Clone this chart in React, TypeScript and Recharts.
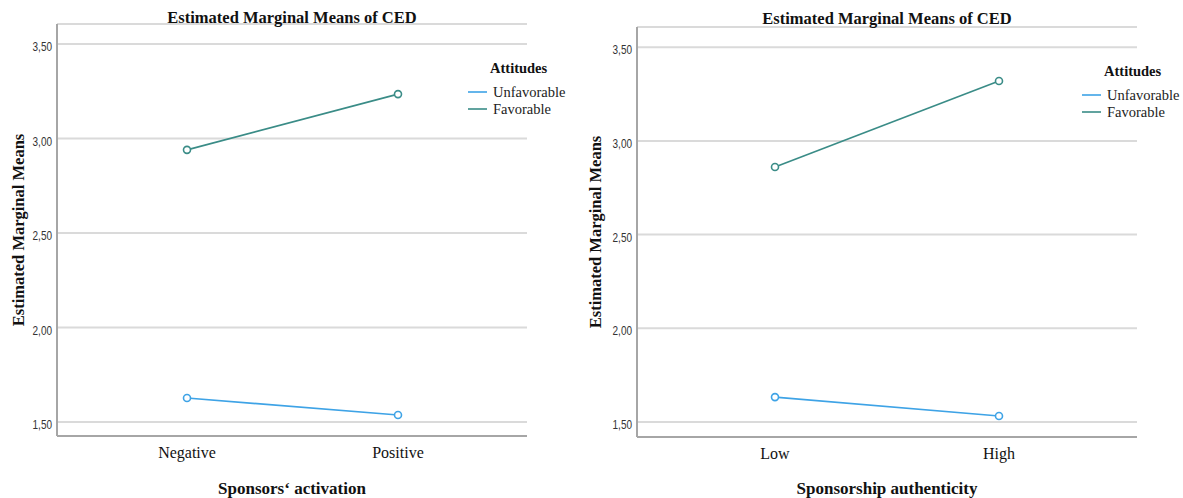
import React from 'react';
import { LineChart, Line, XAxis, YAxis, CartesianGrid } from 'recharts';

const attitudes = ['Unfavorable', 'Favorable'];
const attitudeColors = ['#3ea3e6', '#3a8c87'];

const activationLevels = ['Negative', 'Positive'];
const activationUnfavorable = [1.627, 1.537];
const activationFavorable = [2.94, 3.235];

const authenticityLevels = ['Low', 'High'];
const authenticityUnfavorable = [1.633, 1.532];
const authenticityFavorable = [2.861, 3.32];

const yTicks = [1.5, 2, 2.5, 3, 3.5];

const serif = '"Liberation Serif", "Times New Roman", serif';
const sans = '"Liberation Sans", Arial, sans-serif';

const buildRows = (levels: string[], unfav: number[], fav: number[]) =>
    levels.map((level, i) => ({ level, Unfavorable: unfav[i], Favorable: fav[i] }));

const fmt = (v: number) => v.toFixed(2).replace('.', ',');

const Dot = (props: any) => {
    const { cx, cy, stroke } = props;
    if (cx == null || cy == null) return null;
    return <circle cx={cx} cy={cy} r={3.5} fill="#fff" stroke={stroke} strokeWidth={1.6} />;
};

// narrow-looking numbers, like the SPSS axis font
const YTick = (props: any) => {
    const { x, y, payload } = props;
    return (
        <text
            transform={`translate(${x},${y + 7}) scale(0.8,1)`}
            textAnchor="end"
            fontFamily={sans}
            fontSize={12.5}
            fill="#333"
        >
            {fmt(payload.value)}
        </text>
    );
};

interface PanelProps {
    rows: Array<Record<string, any>>;
    left: number;
    width: number;
    top: number;
    right: number;
    xHeight: number;
    domain: [number, number];
    padding: { left: number; right: number };
}

const Panel: React.FC<PanelProps> = ({ rows, left, width, top, right, xHeight, domain, padding }) => (
    <div style={{ position: 'absolute', left, top: 0 }}>
        <LineChart width={width} height={498} data={rows} margin={{ top, right, bottom: 0, left: 0 }}>
            <CartesianGrid vertical={false} stroke="#dadada" strokeWidth={2} />
            <XAxis
                dataKey="level"
                type="category"
                padding={padding}
                axisLine={{ stroke: '#a6a6a6', strokeWidth: 2 }}
                tickLine={false}
                tickSize={0}
                tickMargin={11}
                height={xHeight}
                tick={{ fill: '#111', fontFamily: serif, fontSize: 16 }}
            />
            <YAxis
                type="number"
                domain={domain}
                ticks={yTicks}
                allowDataOverflow
                width={57}
                axisLine={{ stroke: '#a6a6a6', strokeWidth: 2 }}
                tickLine={false}
                tickSize={0}
                tickMargin={5}
                tick={<YTick />}
            />
            {attitudes.map((a, i) => (
                <Line
                    key={a}
                    dataKey={a}
                    stroke={attitudeColors[i]}
                    strokeWidth={1.6}
                    dot={<Dot />}
                    activeDot={false}
                    isAnimationActive={false}
                />
            ))}
        </LineChart>
    </div>
);

const Legend = ({ x, y }: { x: number; y: number }) => (
    <g fontFamily={serif}>
        <text x={x + 22} y={y} fontSize={14.5} fontWeight="bold" fill="#111">
            Attitudes
        </text>
        {attitudes.map((a, i) => (
            <g key={a}>
                <line
                    x1={x}
                    x2={x + 19}
                    y1={y + 19 + i * 17}
                    y2={y + 19 + i * 17}
                    stroke={attitudeColors[i]}
                    strokeWidth={1.6}
                />
                <text x={x + 25} y={y + 24 + i * 17} fontSize={14.5} fill="#222">
                    {a}
                </text>
            </g>
        ))}
    </g>
);

export default function App() {
    return (
        <div style={{ position: 'relative', width: 1183, height: 498, background: '#fff', overflow: 'hidden' }}>
            <style>{'body{margin:0}'}</style>
            <Panel
                rows={buildRows(activationLevels, activationUnfavorable, activationFavorable)}
                left={0}
                width={590}
                top={24}
                right={63}
                xHeight={62}
                domain={[1.426, 3.606]}
                padding={{ left: 130, right: 129 }}
            />
            <Panel
                rows={buildRows(authenticityLevels, authenticityUnfavorable, authenticityFavorable)}
                left={580}
                width={603}
                top={27}
                right={46}
                xHeight={61}
                domain={[1.42, 3.608]}
                padding={{ left: 138, right: 138 }}
            />
            <svg
                width={1183}
                height={498}
                style={{ position: 'absolute', left: 0, top: 0, pointerEvents: 'none' }}
            >
                <g fontFamily={serif} fontWeight="bold" fill="#111">
                    <text x={292} y={23} fontSize={16.5} textAnchor="middle">
                        Estimated Marginal Means of CED
                    </text>
                    <text x={887} y={24} fontSize={16.5} textAnchor="middle">
                        Estimated Marginal Means of CED
                    </text>
                    <text x={292} y={494} fontSize={17} textAnchor="middle">
                        Sponsors‘ activation
                    </text>
                    <text x={887} y={494} fontSize={17} textAnchor="middle">
                        Sponsorship authenticity
                    </text>
                    <text x={24} y={230} fontSize={16.5} textAnchor="middle" transform="rotate(-90 24 230)">
                        Estimated Marginal Means
                    </text>
                    <text x={601} y={232} fontSize={16.5} textAnchor="middle" transform="rotate(-90 601 232)">
                        Estimated Marginal Means
                    </text>
                </g>
                <Legend x={468} y={73} />
                <Legend x={1082} y={76} />
            </svg>
        </div>
    );
}
